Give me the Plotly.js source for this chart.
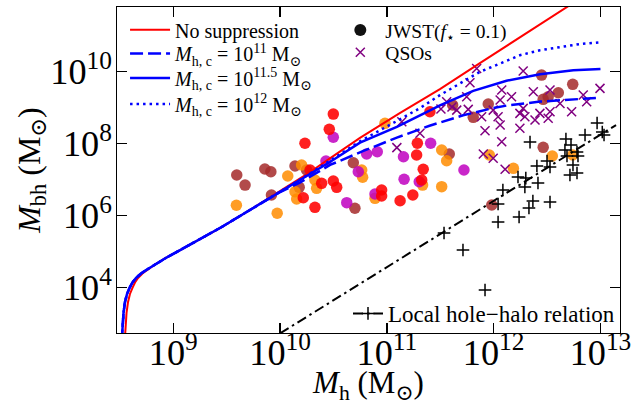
<!DOCTYPE html>
<html><head><meta charset="utf-8">
<script src="https://cdn.plot.ly/plotly-3.0.1.min.js"></script>
<style>html,body{margin:0;padding:0;background:#fff}#chart{width:632px;height:405px}</style>
</head><body><div id="chart"></div>
<script>
// ---- model curves ----
const noSupMh  = [3.49e8, 3.57e8, 3.65e8, 3.77e8, 3.93e8, 4.15e8, 4.38e8, 4.68e8, 5.15e8, 5.80e8, 6.75e8, 8.36e8, 1.16e9, 1.78e9, 2.84e9, 5.22e9, 1.0e10, 1.91e10, 2.93e10, 5.60e10, 1.32e11, 3.14e11, 7.43e11, 1.76e12, 4.95e12, 1.0e13];
const noSupMbh = [256, 920, 1.98e3, 4.01e3, 6.68e3, 9.82e3, 1.39e4, 1.86e4, 2.48e4, 3.20e4, 4.41e4, 6.47e4, 1.11e5, 2.25e5, 4.85e5, 1.44e6, 4.85e6, 1.64e7, 3.93e7, 1.45e8, 7.08e8, 3.31e9, 1.74e10, 9.12e10, 6.31e11, 2.51e12];

const hc11Mh   = [3.27e8, 3.34e8, 3.42e8, 3.53e8, 3.69e8, 3.89e8, 4.15e8, 4.48e8, 4.99e8, 5.68e8, 6.75e8, 8.36e8, 1.16e9, 1.78e9, 2.84e9, 5.22e9, 1.0e10, 1.53e10, 2.94e10, 6.03e10, 1.24e11, 2.51e11, 5.18e11, 9.18e11, 1.32e12, 2.72e12, 5.57e12, 1.0e13];
const hc11Mbh  = [256, 920, 1.98e3, 4.01e3, 6.68e3, 9.82e3, 1.39e4, 1.86e4, 2.48e4, 3.20e4, 4.41e4, 6.47e4, 1.11e5, 2.25e5, 4.85e5, 1.44e6, 4.55e6, 8.32e6, 2.57e7, 6.31e7, 1.48e8, 3.16e8, 6.17e8, 9.33e8, 1.15e9, 1.48e9, 1.74e9, 1.91e9];

const hc115Mh  = [3.27e8, 3.34e8, 3.42e8, 3.53e8, 3.69e8, 3.89e8, 4.15e8, 4.48e8, 4.99e8, 5.68e8, 6.75e8, 8.36e8, 1.16e9, 1.78e9, 2.84e9, 5.22e9, 1.0e10, 1.91e10, 2.93e10, 5.60e10, 1.24e11, 2.54e11, 3.14e11, 6.44e11, 1.32e12, 2.72e12, 5.57e12, 1.0e13];
const hc115Mbh = [256, 920, 1.98e3, 4.01e3, 6.68e3, 9.82e3, 1.39e4, 1.86e4, 2.48e4, 3.20e4, 4.41e4, 6.47e4, 1.11e5, 2.25e5, 4.85e5, 1.44e6, 4.55e6, 1.45e7, 3.10e7, 1.07e8, 2.95e8, 8.51e8, 1.17e9, 2.95e9, 5.62e9, 8.51e9, 1.10e10, 1.20e10];

const hc12Mh   = [3.27e8, 3.34e8, 3.42e8, 3.53e8, 3.69e8, 3.89e8, 4.15e8, 4.48e8, 4.99e8, 5.68e8, 6.75e8, 8.36e8, 1.16e9, 1.78e9, 2.84e9, 5.22e9, 1.0e10, 1.91e10, 2.93e10, 5.60e10, 1.24e11, 2.04e11, 3.14e11, 4.83e11, 7.45e11, 1.15e12, 1.76e12, 2.72e12, 4.18e12, 6.43e12, 1.0e13];
const hc12Mbh  = [256, 920, 1.98e3, 4.01e3, 6.68e3, 9.82e3, 1.39e4, 1.86e4, 2.48e4, 3.20e4, 4.41e4, 6.47e4, 1.11e5, 2.25e5, 4.85e5, 1.44e6, 4.55e6, 1.49e7, 3.39e7, 1.17e8, 4.27e8, 9.77e8, 2.24e9, 4.79e9, 1.0e10, 1.70e10, 2.88e10, 3.98e10, 4.90e10, 5.89e10, 6.61e10];

const localRelMh  = [1.0e10, 1.0e12, 1.4e13];
const localRelMbh = [537, 2.6e6, 3.31e8];

// ---- observations ----
const jwstRedMh  = [3.15e10, 2.89e10, 1.71e10, 1.91e10, 2.45e10, 3.15e10, 3.39e10, 1.65e10, 2.12e10, 1.93e11, 1.90e11, 2.19e11, 2.12e11, 8.93e10, 8.93e10, 1.33e11, 1.75e11, 2.53e11];
const jwstRedMbh = [6.68e8, 2.51e8, 1.03e8, 1.86e7, 7.94e6, 9.2e6, 6.15e6, 3.16e6, 1.71e6, 1.03e8, 4.85e7, 1.95e7, 9.8e6, 5.18e6, 3.52e6, 2.61e6, 3.76e6, 7.74e8];

const jwstOrangeMh  = [1.18e10, 1.59e10, 2.12e10, 2.20e10, 1.43e10, 3.9e9, 9.4e9, 1.38e10, 9.6e10, 5.81e10, 5.93e10, 3.26e11, 3.63e11, 3.26e11, 2.16e11, 7.74e10, 9.1e11, 1.53e12, 3.54e12, 5.50e12];
const jwstOrangeMbh = [1.27e7, 2.56e7, 9.8e6, 5.77e6, 2.91e6, 1.95e6, 1.17e6, 4.64e6, 3.69e8, 1.86e7, 1.17e7, 6.68e7, 3.37e7, 6.4e6, 7.1e6, 3.04e6, 4.85e7, 2.07e7, 4.55e7, 4.85e7];

const jwstMagentaMh  = [3.15e10, 2.69e10, 4.21e10, 5.40e10, 6.47e10, 8.13e10, 1.43e11, 2.57e11, 1.45e11, 2.01e11, 5.27e11, 7.74e10];
const jwstMagentaMbh = [1.51e8, 3.31e7, 2.30e6, 1.67e7, 5.18e7, 6.0e7, 4.35e7, 1.03e8, 1.03e7, 8.8e6, 1.86e7, 4.01e6];

const jwstBrownMh  = [3.93e9, 4.7e9, 7.2e9, 8.2e9, 1.38e10, 1.77e10, 1.51e10, 8.3e9, 4.85e10, 5.02e10, 3.84e11, 4.13e11, 6.44e11, 8.9e11, 2.81e12, 5.50e12, 2.91e12, 3.24e12, 4.03e12, 2.91e12, 9.6e11];
const jwstBrownMbh = [1.35e7, 7.1e6, 1.98e7, 1.67e7, 2.40e7, 1.86e7, 6.15e6, 3.76e6, 2.96e7, 1.61e6, 5.18e7, 1.19e9, 5.41e8, 1.27e9, 8.1e9, 4.47e9, 1.71e9, 2.02e9, 2.61e9, 7.94e7, 1.98e6];

const qsoMh  = [6.93e11, 6.0e11, 1.89e12, 5.59e11, 1.19e12, 1.47e12, 1.15e12, 2.35e12, 3.37e12, 6.9e12, 9.9e12, 7.43e12, 5.37e12, 4.07e11, 3.63e11, 3.21e11, 5.78e11, 7.72e11, 9.9e11, 1.10e12, 1.89e12, 1.96e12, 2.44e12, 2.71e12, 3.37e12, 4.18e12, 8.3e11, 1.15e12, 1.76e12, 1.19e12, 8.0e11, 9.9e11, 1.28e12, 1.76e12, 3.24e12, 1.24e11, 2.04e11, 1.38e11, 4.51e11];
const qsoMbh = [1.24e10, 4.94e9, 1.05e10, 2.02e9, 3.10e9, 2.02e9, 1.64e9, 2.78e9, 3.10e9, 2.25e9, 3.46e9, 1.47e9, 7.74e8, 1.05e9, 1.47e9, 9.2e8, 9.0e8, 5.62e8, 8.6e8, 5.62e8, 9.6e8, 5.62e8, 4.55e8, 6.99e8, 7.74e8, 1.32e9, 2.30e8, 3.30e8, 2.68e8, 1.14e8, 5.18e7, 3.93e7, 1.95e7, 6.99e8, 5.08e8, 7.8e7, 1.95e8, 4.08e8, 8.6e8];

const localMh  = [3.43e11, 5.16e11, 8.3e11, 1.10e12, 1.10e12, 1.22e12, 1.69e12, 2.0e12, 1.96e12, 1.73e12, 2.14e12, 2.33e12, 2.60e12, 3.37e12, 2.19e12, 2.54e12, 3.16e12, 3.37e12, 4.65e12, 4.75e12, 4.86e12, 5.30e12, 6.03e12, 6.16e12, 5.53e12, 5.18e12, 6.03e12, 7.17e12, 9.3e12, 1.04e13, 1.08e13];
const localMbh = [3.30e5, 1.11e5, 8.6e3, 2.11e6, 6.68e5, 5.18e6, 1.19e7, 1.11e7, 6.3e6, 9.2e5, 1.64e6, 2.56e6, 8.1e6, 2.40e6, 1.11e8, 2.40e7, 3.31e7, 2.26e7, 6.68e7, 1.35e8, 4.55e7, 9.2e7, 5.87e7, 4.55e7, 2.56e7, 1.35e7, 1.53e7, 1.75e8, 3.76e8, 2.11e8, 1.75e8];

const legendNames = [
  'No suppression',
  '<i>M</i><sub>h, c</sub> = 10<sup>11</sup> M<sub>⊙</sub>',
  '<i>M</i><sub>h, c</sub> = 10<sup>11.5</sup> M<sub>⊙</sub>',
  '<i>M</i><sub>h, c</sub> = 10<sup>12</sup> M<sub>⊙</sub>',
  'JWST(<i>f</i><sub>⋆</sub> = 0.1)',
  'QSOs',
  'Local hole−halo relation'
];

const FONT = 'Liberation Serif, DejaVu Serif, serif';
const BLUE = '#0000ff';
const DASHDOT = '10px,4px,2.5px,4px';

function dots(x, y, color) {
  return {x: x, y: y, type: 'scatter', mode: 'markers', showlegend: false, hoverinfo: 'skip',
    marker: {symbol: 'circle', size: 11.5, color: color, line: {width: 0}}};
}

const traces = [
  dots(jwstBrownMh, jwstBrownMbh, 'rgba(165,42,42,0.85)'),
  dots(jwstOrangeMh, jwstOrangeMbh, 'rgba(255,140,0,0.85)'),
  dots(jwstMagentaMh, jwstMagentaMbh, 'rgba(191,0,191,0.85)'),
  dots(jwstRedMh, jwstRedMbh, 'rgba(255,0,0,0.88)'),
  {x: qsoMh, y: qsoMbh, type: 'scatter', mode: 'markers', showlegend: false,
   marker: {symbol: 'x-thin', size: 9, line: {width: 1.5, color: '#800080'}}},
  {x: localMh, y: localMbh, type: 'scatter', mode: 'markers', showlegend: false,
   marker: {symbol: 'cross-thin', size: 9, line: {width: 1.5, color: '#000'}}},
  {x: localRelMh, y: localRelMbh, type: 'scatter', mode: 'lines', showlegend: false,
   line: {color: '#000', width: 2, dash: DASHDOT}},
  {x: noSupMh, y: noSupMbh, type: 'scatter', mode: 'lines', name: legendNames[0], legend: 'legend',
   line: {color: '#ff0000', width: 2}},
  {x: hc11Mh, y: hc11Mbh, type: 'scatter', mode: 'lines', name: legendNames[1], legend: 'legend4',
   line: {color: BLUE, width: 2.5, dash: '13px,5px'}},
  {x: hc115Mh, y: hc115Mbh, type: 'scatter', mode: 'lines', name: legendNames[2], legend: 'legend5',
   line: {color: BLUE, width: 2.5}},
  {x: hc12Mh, y: hc12Mbh, type: 'scatter', mode: 'lines', name: legendNames[3], legend: 'legend6',
   line: {color: BLUE, width: 2.5, dash: '2.5px,4px'}},
  {x: [null], y: [null], type: 'scatter', mode: 'markers', name: legendNames[4], legend: 'legend2',
   marker: {symbol: 'circle', size: 12, color: '#111'}},
  {x: [null], y: [null], type: 'scatter', mode: 'markers', name: legendNames[5], legend: 'legend7',
   marker: {symbol: 'x-thin', size: 9, line: {width: 1.5, color: '#800080'}}},
  {x: [null], y: [null], type: 'scatter', mode: 'lines+markers', name: legendNames[6], legend: 'legend3',
   line: {color: '#000', width: 2, dash: DASHDOT},
   marker: {symbol: 'cross-thin', size: 9, line: {width: 1.5, color: '#000'}}}
];

const axisBase = {
  type: 'log', showgrid: false, zeroline: false, showline: true, mirror: 'ticks',
  linecolor: '#000', linewidth: 1.3, ticks: 'inside', ticklen: 10, tickwidth: 1.3, tickcolor: '#000',
  exponentformat: 'power', showexponent: 'all',
  tickfont: {family: FONT, size: 29, color: '#000'}
};

const legendBase = {
  bgcolor: 'rgba(0,0,0,0)', borderwidth: 0, font: {family: FONT, size: 20, color: '#000'},
  tracegroupgap: 0, itemwidth: 40, xanchor: 'left', yanchor: 'top', itemclick: false
};
const smallLegendFont = {family: FONT, size: 19.5, color: '#000'};

const layout = {
  width: 632, height: 405,
  margin: {l: 117, r: 12, t: 7, b: 72},
  paper_bgcolor: '#fff', plot_bgcolor: '#fff',
  font: {family: FONT, color: '#000'},
  showlegend: true,
  xaxis: Object.assign({}, axisBase, {range: [8.473, 13.183], dtick: 1, ticklabelstandoff: -11,
    title: {text: '<i>M</i><sub>h</sub> (M<sub>⊙</sub>)', font: {family: FONT, size: 31, color: '#000'}, standoff: 10}}),
  yaxis: Object.assign({}, axisBase, {range: [2.74, 11.80], dtick: 2, ticklabelstandoff: -2,
    title: {text: '<i>M</i><sub>bh</sub> (M<sub>⊙</sub>)', font: {family: FONT, size: 32, color: '#000'}, standoff: 0}}),
  legend:  Object.assign({}, legendBase, {x: 0.016, y: 0.990}),
  legend4: Object.assign({}, legendBase, {x: 0.016, y: 0.917}),
  legend5: Object.assign({}, legendBase, {x: 0.016, y: 0.842}),
  legend6: Object.assign({}, legendBase, {x: 0.016, y: 0.762}),
  legend2: Object.assign({}, legendBase, {x: 0.434, y: 0.988, font: smallLegendFont}),
  legend7: Object.assign({}, legendBase, {x: 0.434, y: 0.920, font: smallLegendFont}),
  legend3: Object.assign({}, legendBase, {x: 1.0, y: -0.006, xanchor: 'right', yanchor: 'bottom', itemwidth: 30,
    font: {family: FONT, size: 23, color: '#000'}})
};

Plotly.newPlot('chart', traces, layout, {staticPlot: true, displayModeBar: false});
</script></body></html>
